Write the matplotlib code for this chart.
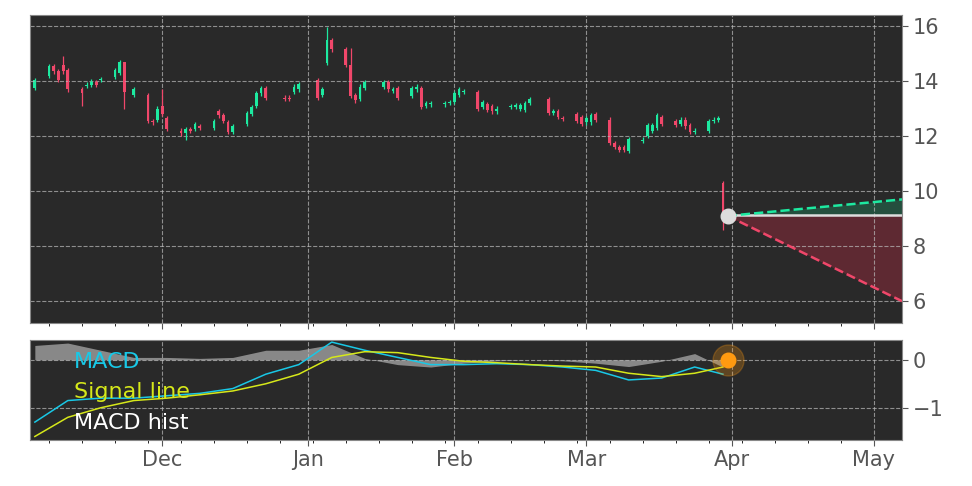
import numpy as np
import pandas as pd
import matplotlib
matplotlib.use("Agg")
import matplotlib.pyplot as plt
import matplotlib.dates as mdates

# daily candles (open, close), Nov 4 2022 .. Mar 30 2023
holidays = ["2022-11-24", "2022-12-26", "2023-01-02", "2023-01-16", "2023-02-20"]
dates = pd.bdate_range("2022-11-04", "2023-03-30", freq="C", holidays=holidays)

oc = [
    (13.75, 14.05),
    (14.2, 14.55), (14.55, 14.35), (14.35, 14.05), (14.6, 14.35), (14.4, 13.7),
    (13.7, 13.55), (13.82, 13.87), (13.85, 13.98), (13.95, 13.85), (14.03, 14.07),
    (14.15, 14.4), (14.3, 14.7), (14.7, 13.6), (13.5, 13.7),
    (13.5, 12.55), (12.55, 12.5), (12.6, 13.0), (13.1, 12.8), (12.65, 12.25),
    (12.2, 12.1), (12.1, 12.25), (12.25, 12.2), (12.25, 12.45), (12.35, 12.3),
    (12.3, 12.55), (12.9, 12.75), (12.75, 12.55), (12.5, 12.15), (12.15, 12.35),
    (12.45, 12.85), (12.8, 13.05), (13.1, 13.55), (13.55, 13.75), (13.75, 13.4),
    (13.4, 13.35), (13.4, 13.35), (13.6, 13.8), (13.7, 13.9),
    (14.05, 13.4), (13.5, 13.7), (14.65, 15.5), (15.5, 15.15),
    (15.15, 14.6), (14.6, 13.45), (13.5, 13.3), (13.35, 13.8), (13.75, 13.95),
    (13.8, 13.95), (13.95, 13.7), (13.65, 13.7), (13.75, 13.4),
    (13.45, 13.75), (13.7, 13.8), (13.75, 13.05), (13.1, 13.2), (13.15, 13.2),
    (13.15, 13.2), (13.2, 13.25), (13.25, 13.55), (13.5, 13.7), (13.6, 13.65),
    (13.6, 13.0), (13.05, 13.25), (13.15, 12.95), (13.1, 12.9), (12.9, 13.0),
    (13.05, 13.1), (13.05, 13.12), (13.0, 13.12), (12.95, 13.2), (13.2, 13.35),
    (13.35, 12.85), (12.85, 12.9), (12.9, 12.7), (12.66, 12.64),
    (12.8, 12.55), (12.7, 12.45), (12.5, 12.65), (12.5, 12.75), (12.8, 12.6),
    (12.6, 11.75), (11.75, 11.6), (11.6, 11.5), (11.6, 11.5), (11.45, 11.9),
    (11.83, 11.87), (12.0, 12.4), (12.2, 12.4), (12.3, 12.75), (12.7, 12.45),
    (12.55, 12.4), (12.45, 12.6), (12.6, 12.35), (12.4, 12.15), (12.15, 12.2),
    (12.2, 12.55), (12.55, 12.6), (12.6, 12.65), (10.3, 9.1),
]
opens = [o for o, c in oc]
closes = [c for o, c in oc]
# notable wick extremes by candle index
high_override = {4: 14.9, 13: 14.7, 18: 13.7, 41: 15.95, 44: 15.2}
low_override = {6: 13.1, 13: 13.0, 21: 11.85, 99: 8.6}

# forecast cone
fc_dates = pd.to_datetime(["2023-03-31", "2023-05-07"])
fc_mid = [9.15, 9.15]
fc_up = [9.1, 9.7]
fc_down = [9.1, 6.0]

# weekly MACD readings
macd_dates = pd.to_datetime([
    "2022-11-04", "2022-11-11", "2022-11-18", "2022-11-25", "2022-12-02",
    "2022-12-09", "2022-12-16", "2022-12-23", "2022-12-30", "2023-01-06",
    "2023-01-13", "2023-01-20", "2023-01-27", "2023-02-03", "2023-02-10",
    "2023-02-17", "2023-02-24", "2023-03-03", "2023-03-10", "2023-03-17",
    "2023-03-24", "2023-03-30"])
macd = [-1.3, -0.85, -0.8, -0.8, -0.75, -0.7, -0.6, -0.3, -0.1, 0.37, 0.2,
        0.05, -0.1, -0.1, -0.08, -0.1, -0.15, -0.22, -0.42, -0.38, -0.15, -0.3]
signal = [-1.6, -1.2, -1.0, -0.85, -0.8, -0.73, -0.65, -0.5, -0.3, 0.05, 0.17,
          0.15, 0.05, -0.03, -0.06, -0.1, -0.13, -0.15, -0.28, -0.35, -0.28, -0.15]

BG = "#292929"
GREEN = "#1de9a0"
RED = "#f0476a"
TICK = "#555555"

fig = plt.figure(figsize=(9.72, 4.86), dpi=100)
ax = fig.add_axes([0.031, 0.335, 0.897, 0.634])
ax2 = fig.add_axes([0.031, 0.095, 0.897, 0.206], sharex=ax)

for a in (ax, ax2):
    a.set_facecolor(BG)
    a.grid(True, color="#bbbbbb", linestyle="--", linewidth=0.8, alpha=0.7)
    a.yaxis.tick_right()
    a.tick_params(colors=TICK, labelsize=15, length=4)
    for s in a.spines.values():
        s.set_color("#888888")

x = mdates.date2num(dates)
w = 0.6
for i in range(len(x)):
    o, c = opens[i], closes[i]
    col = GREEN if c >= o else RED
    hi = high_override.get(i, max(o, c) + 0.08)
    lo = low_override.get(i, min(o, c) - 0.08)
    ax.vlines(x[i], lo, hi, color=col, linewidth=0.9)
    ax.bar(x[i], max(abs(c - o), 0.03), bottom=min(o, c), width=w, color=col)

ax.fill_between(fc_dates, fc_mid, fc_down, color="#8b2a3a", alpha=0.55, linewidth=0)
ax.fill_between(fc_dates, fc_mid, fc_up, color="#1d8a60", alpha=0.4, linewidth=0)
ax.plot(fc_dates, fc_mid, color="#dddddd", linewidth=1.8)
ax.plot(fc_dates, fc_up, color=GREEN, linestyle="--", linewidth=1.8)
ax.plot(fc_dates, fc_down, color=RED, linestyle="--", linewidth=1.8)
ax.scatter(fc_dates[:1], [9.1], s=110, color="#dddddd", zorder=5)

ax.set_ylim(5.2, 16.4)
ax.set_yticks([6, 8, 10, 12, 14, 16])
ax.set_xlim(pd.Timestamp("2022-11-03"), pd.Timestamp("2023-05-07"))
ax.xaxis.set_major_locator(mdates.MonthLocator())
ax.xaxis.set_minor_locator(mdates.WeekdayLocator(byweekday=mdates.MO))
ax.xaxis.set_major_formatter(mdates.DateFormatter("%b"))
plt.setp(ax.get_xticklabels(), visible=False)

hist = np.array(macd) - np.array(signal)
ax2.fill_between(macd_dates, 0, hist, color="#9a9a9a", alpha=0.85, linewidth=0)
ax2.plot(macd_dates, macd, color="#19c8e6", linewidth=1.1)
ax2.plot(macd_dates, signal, color="#d6e81a", linewidth=1.1)
ax2.scatter([pd.Timestamp("2023-03-31")], [0.0], s=500, color="#ff9a10", alpha=0.25, zorder=4)
ax2.scatter([pd.Timestamp("2023-03-31")], [0.0], s=110, color="#ff9a10", zorder=5)
ax2.set_ylim(-1.67, 0.42)
ax2.set_yticks([0, -1])
ax2.set_yticklabels(["0", "\u22121"])
ax2.text(0.05, 0.78, "MACD", color="#19c8e6", fontsize=16, transform=ax2.transAxes, va="center")
ax2.text(0.05, 0.48, "Signal line", color="#d6e81a", fontsize=16, transform=ax2.transAxes, va="center")
ax2.text(0.05, 0.17, "MACD hist", color="white", fontsize=16, transform=ax2.transAxes, va="center")

fig.savefig("out.png", dpi=100, facecolor="white")
